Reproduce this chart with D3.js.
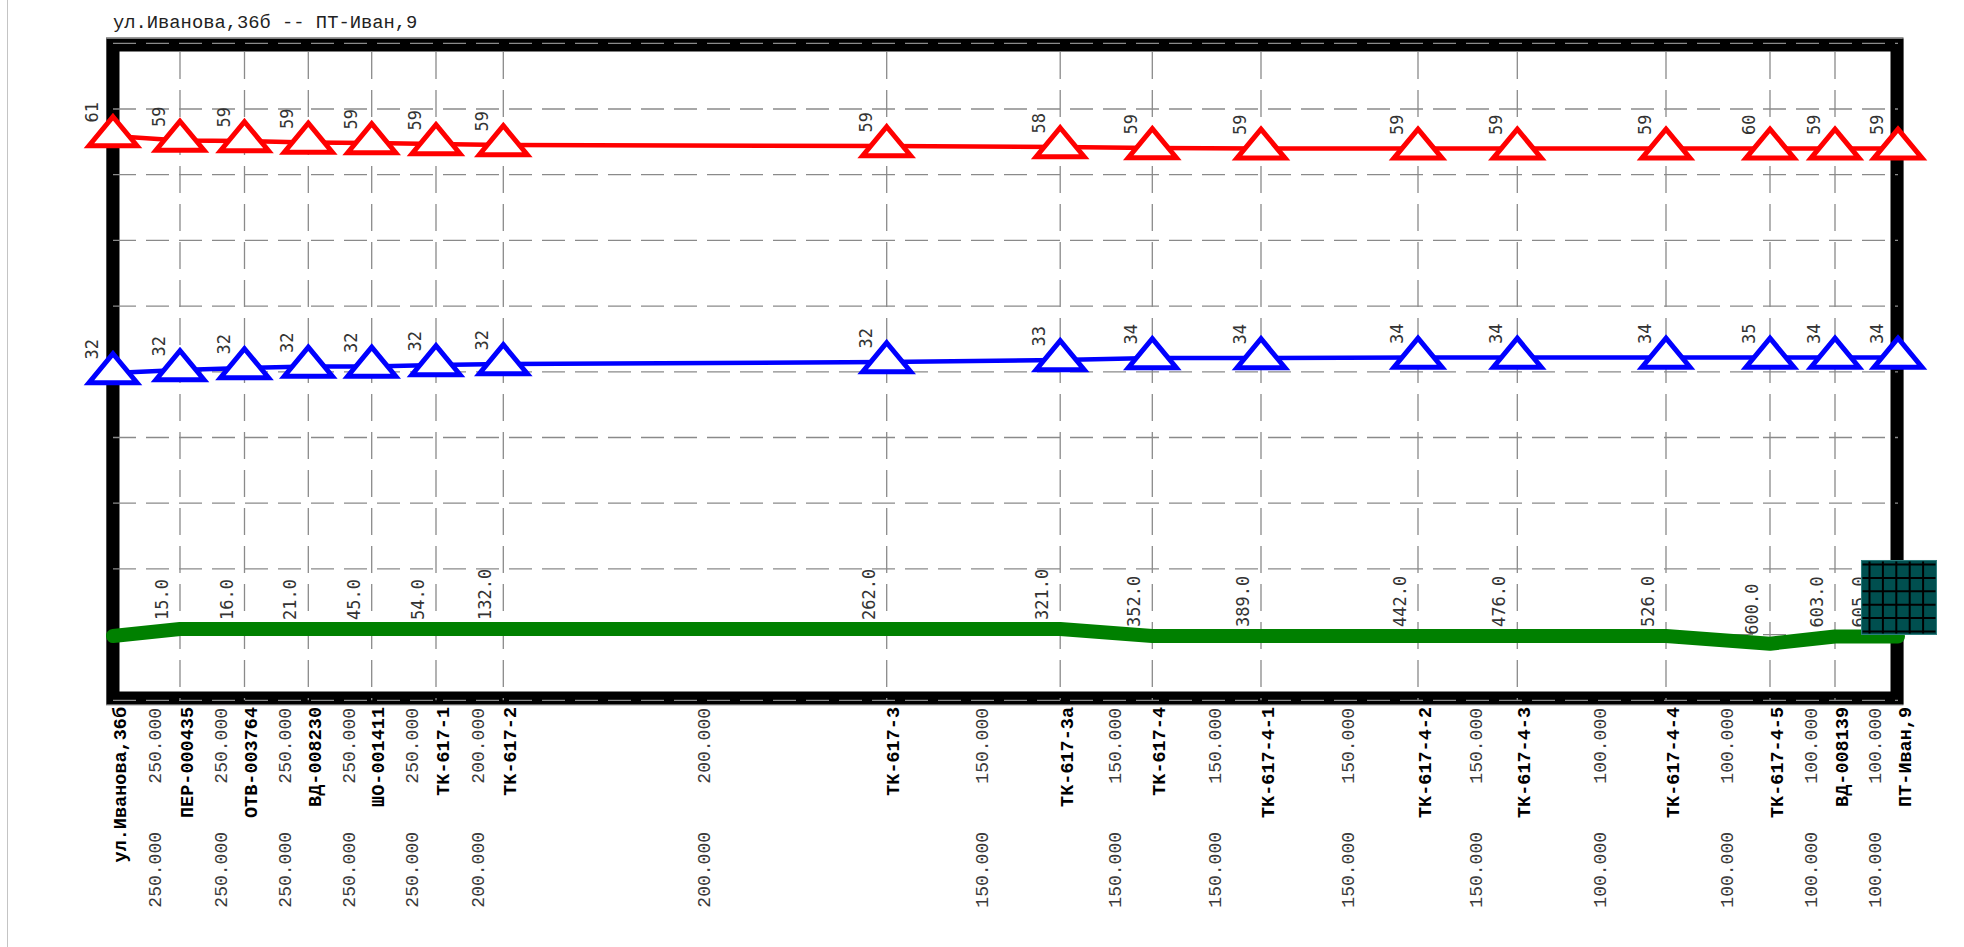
<!DOCTYPE html>
<html><head><meta charset="utf-8">
<script src="https://cdn.jsdelivr.net/npm/d3@7"></script>
<style>html,body{margin:0;padding:0;background:#fff;} svg{display:block}</style>
</head><body>
<svg id="c" width="1964" height="947"></svg>
<script>
// ---------- data ----------
const title = "ул.Иванова,36б -- ПТ-Иван,9";
const stations = ["ул.Иванова,36б","ПЕР-000435","ОТВ-003764","ВД-008230","ШО-001411","ТК-617-1","ТК-617-2",
  "ТК-617-3","ТК-617-3а","ТК-617-4","ТК-617-4-1","ТК-617-4-2","ТК-617-4-3","ТК-617-4-4","ТК-617-4-5","ВД-008139","ПТ-Иван,9"];
// position of each node along the profile axis (chart units)
const profilePos = [0, 67, 131.5, 195.3, 258.7, 323, 390.3, 773.7, 947.2, 1039.3, 1148, 1305, 1404.3, 1553, 1657, 1722, 1785];
// relative heights, m
const elevation  = [7.83, 8.68, 8.68, 8.68, 8.68, 8.68, 8.68, 8.68, 8.68, 7.83, 7.83, 7.83, 7.83, 7.83, 6.89, 7.77, 7.77];
const supplyHead = [68.71, 68.16, 68.10, 67.92, 67.86, 67.74, 67.62, 67.49, 67.37, 67.25, 67.2, 67.2, 67.2, 67.2, 67.2, 67.2, 67.2];
const returnHead = [39.85, 40.22, 40.46, 40.65, 40.65, 40.83, 40.95, 41.19, 41.44, 41.68, 41.68, 41.74, 41.74, 41.74, 41.74, 41.74, 41.74];
const supplyLabel = [61, 59, 59, 59, 59, 59, 59, 59, 58, 59, 59, 59, 59, 59, 60, 59, 59];
const returnLabel = [32, 32, 32, 32, 32, 32, 32, 32, 33, 34, 34, 34, 34, 34, 35, 34, 34];
const distLabel = [null, "15.0", "16.0", "21.0", "45.0", "54.0", "132.0", "262.0", "321.0", "352.0", "389.0",
  "442.0", "476.0", "526.0", "600.0", "603.0", "605.0"];
const supplyDiam = ["250.000","250.000","250.000","250.000","250.000","200.000","200.000","150.000",
  "150.000","150.000","150.000","150.000","100.000","100.000","100.000","100.000"];
const returnDiam = ["250.000","250.000","250.000","250.000","250.000","200.000","200.000","150.000",
  "150.000","150.000","150.000","150.000","100.000","100.000","100.000","100.000"];
const yGrid = d3.range(0, 81, 8);

// ---------- layout ----------
const svg = d3.select("#c");
const x = d3.scaleLinear().domain([0, d3.max(profilePos)]).range([113, 1898]);
const y = d3.scaleLinear().domain([0, 80]).range([700.3, 43.3]);
const GRID = "#8a8a8a";
const MONO = "'Liberation Mono','Courier New',monospace";
const SANSMONO = "'DejaVu Sans Mono',monospace";
const last = stations.length - 1;

// left thin panel line
svg.append("line").attr("x1", 7.5).attr("x2", 7.5).attr("y1", 0).attr("y2", 947)
  .attr("stroke", "#c4c4c4").attr("stroke-width", 1);

// title
svg.append("text").attr("x", 113).attr("y", 28).text(title)
  .attr("font-family", MONO).attr("font-size", 18.8).attr("fill", "#222");

// frame
svg.append("rect").attr("x", 106.5).attr("y", 37.5).attr("width", 1796.5).attr("height", 667.5)
  .attr("fill", "none").attr("stroke", "#9a9a9a").attr("stroke-width", 1);
svg.append("rect").attr("x", 113).attr("y", 45).attr("width", 1784).attr("height", 653)
  .attr("fill", "none").attr("stroke", "#000").attr("stroke-width", 13);

// horizontal grid
svg.append("g").selectAll("line").data(yGrid).join("line")
  .attr("x1", x(0)).attr("x2", x(d3.max(profilePos)))
  .attr("y1", d => y(d)).attr("y2", d => y(d))
  .attr("stroke", GRID).attr("stroke-width", 1.3).attr("stroke-dasharray", "23,10");

// vertical grid at inner nodes
svg.append("g").selectAll("line").data(profilePos.slice(1, -1)).join("line")
  .attr("x1", d => x(d)).attr("x2", d => x(d))
  .attr("y1", 52).attr("y2", y(0))
  .attr("stroke", GRID).attr("stroke-width", 1.3).attr("stroke-dasharray", "27,11");

// ground line
const idx = d3.range(stations.length);
svg.append("path").datum(idx)
  .attr("d", d3.line().x(i => x(profilePos[i])).y(i => y(elevation[i])))
  .attr("fill", "none").attr("stroke", "#008000").attr("stroke-width", 14)
  .attr("stroke-linecap", "round").attr("stroke-linejoin", "round");

// head lines with triangle markers
const triPath = "M0,-19.3L24,9.7L-24,9.7Z";
function series(vals, labels, color) {
  svg.append("path").datum(idx)
    .attr("d", d3.line().x(i => x(profilePos[i])).y(i => y(vals[i])))
    .attr("fill", "none").attr("stroke", color).attr("stroke-width", 4.5);
  svg.append("g").selectAll("path").data(idx).join("path")
    .attr("d", triPath)
    .attr("transform", i => `translate(${x(profilePos[i])},${y(vals[i])})`)
    .attr("fill", "#fff").attr("stroke", color).attr("stroke-width", 5).attr("stroke-linejoin", "miter");
  svg.append("g").selectAll("text").data(idx).join("text")
    .attr("transform", i => `translate(${x(profilePos[i]) - 21},${y(vals[i]) - 13.5}) rotate(-90)`)
    .attr("text-anchor", "start").attr("dominant-baseline", "central")
    .attr("font-family", SANSMONO).attr("font-size", 17).attr("fill", "#333")
    .text(i => labels[i]);
}
series(supplyHead, supplyLabel, "#ff0000");
series(returnHead, returnLabel, "#0000ff");

// distance labels above ground line
svg.append("g").selectAll("text").data(idx.filter(i => distLabel[i] !== null)).join("text")
  .attr("transform", i => `translate(${x(profilePos[i]) - (i === last ? 39 : 18)},${y(elevation[i]) - 9}) rotate(-90)`)
  .attr("text-anchor", "start").attr("dominant-baseline", "central")
  .attr("font-family", SANSMONO).attr("font-size", 17).attr("fill", "#333")
  .text(i => distLabel[i]);

// consumer symbol at the last node
const bx = x(profilePos[last]) - 36.5, by = y(elevation[last]) - 76, bw = 75, bh = 74;
const box = svg.append("g").attr("transform", `translate(${bx},${by})`);
box.append("rect").attr("width", bw).attr("height", bh).attr("fill", "#004f4f").attr("stroke", "#2e7d7d").attr("stroke-width", 1);
box.selectAll("line.v").data(d3.range(5)).join("line").attr("class", "v")
  .attr("x1", k => 8 + k * 13.4).attr("x2", k => 8 + k * 13.4).attr("y1", 1).attr("y2", bh - 1)
  .attr("stroke", "#000").attr("stroke-width", 2);
box.selectAll("line.h").data(d3.range(6)).join("line").attr("class", "h")
  .attr("y1", k => 4 + k * 13.4).attr("y2", k => 4 + k * 13.4).attr("x1", 1).attr("x2", bw - 1)
  .attr("stroke", "#000").attr("stroke-width", 2);

// station names under the frame
svg.append("g").selectAll("text").data(idx).join("text")
  .attr("transform", i => `translate(${x(profilePos[i]) + 8},707) rotate(-90)`)
  .attr("text-anchor", "end").attr("dominant-baseline", "central")
  .attr("font-family", MONO).attr("font-weight", "bold").attr("font-size", 18.5).attr("fill", "#000")
  .text(i => stations[i]);

// pipe diameters (two rows) at segment midpoints
const segs = d3.range(stations.length - 1);
const mid = s => (x(profilePos[s]) + x(profilePos[s + 1])) / 2;
[[supplyDiam, 708], [returnDiam, 832]].forEach(([arr, yy]) => {
  svg.append("g").selectAll("text").data(segs).join("text")
    .attr("transform", s => `translate(${mid(s) + 9.5},${yy}) rotate(-90)`)
    .attr("text-anchor", "end").attr("dominant-baseline", "central")
    .attr("font-family", MONO).attr("font-size", 18).attr("fill", "#3a3a3a")
    .text(s => arr[s]);
});
</script>
</body></html>
